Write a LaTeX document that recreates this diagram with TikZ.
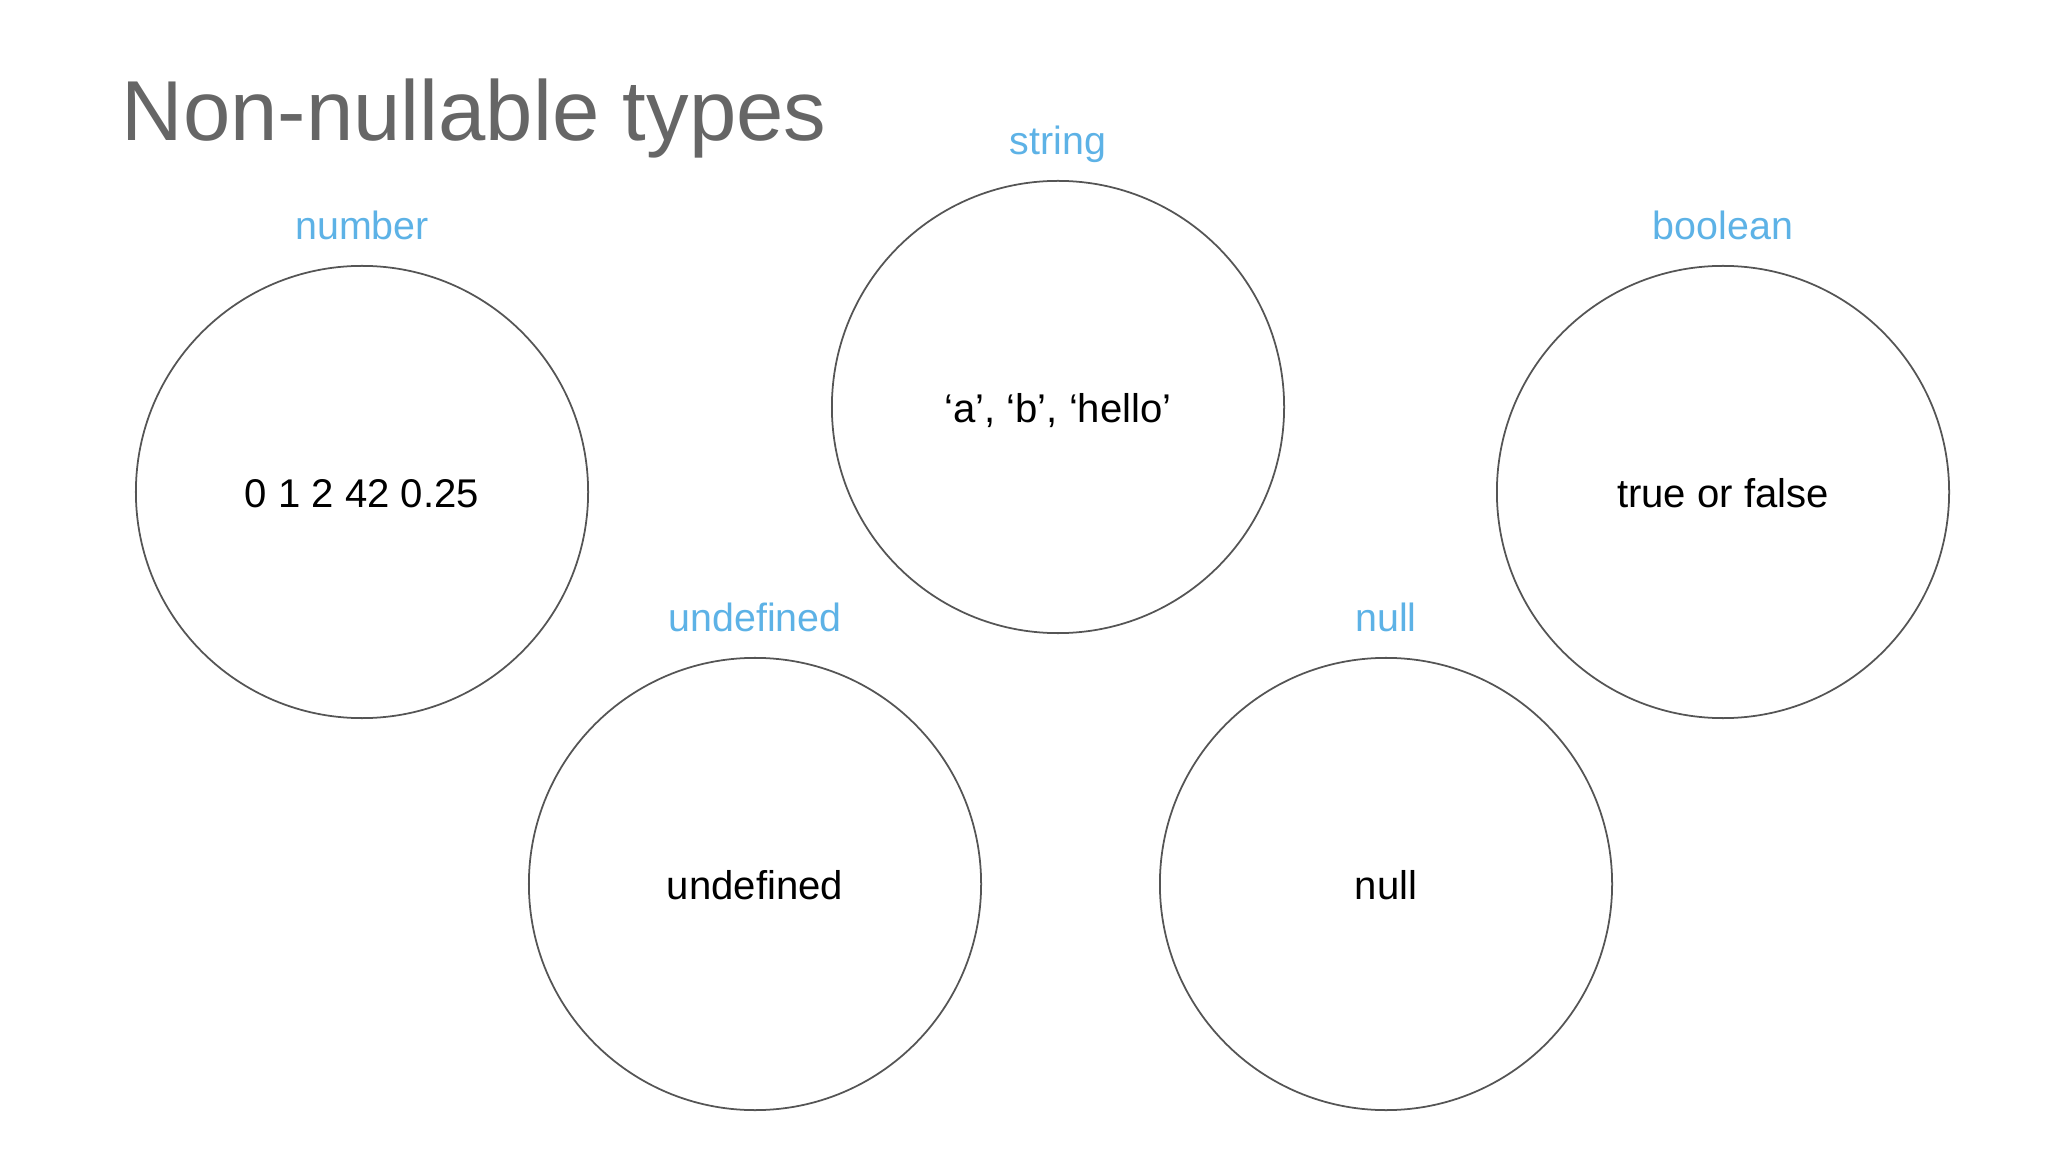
\documentclass[tikz,border=0pt]{standalone}
\usepackage{fontspec}
\setmainfont{Liberation Sans}
\usetikzlibrary{positioning}
\definecolor{titlegray}{RGB}{102,102,102}
\definecolor{labelblue}{RGB}{93,178,230}
\definecolor{ringgray}{RGB}{85,85,85}

\begin{document}
\begin{tikzpicture}[x=0.01cm, y=-0.01cm,
    typeset/.style={draw=ringgray, line width=0.5pt, circle, minimum size=4.52cm, inner sep=0pt, text height=9.2pt, text depth=0.2pt, font=\fontsize{11.4}{13}\selectfont},
    typename/.style={text=labelblue, inner sep=0pt, text depth=0pt, font=\fontsize{11.2}{13}\selectfont}]
        \useasboundingbox (0,0) rectangle (2048,1152);
        \node[anchor=base west, inner sep=0pt, text=titlegray, font=\fontsize{24.2}{28}\selectfont] (title) at (121,141) {Non-nullable types};

        \node[typeset] (number) at (362,492) {0 1 2 42 0.25};
        \node[typeset] (string) at (1058,407) {‘a’, ‘b’, ‘hello’};
        \node[typeset] (boolean) at (1723,492) {true or false};
        \node[typeset] (undef) at (755,884) {undefined};
        \node[typeset] (nullset) at (1386,884) {null};

        \node[typename, above=0.25cm of number] (numberlabel) {number};
        \node[typename, above=0.25cm of string] (stringlabel) {string};
        \node[typename, above=0.25cm of boolean] (booleanlabel) {boolean};
        \node[typename, above=0.25cm of undef] (undeflabel) {undefined};
        \node[typename, above=0.25cm of nullset] (nulllabel) {null};
    \end{tikzpicture}
\end{document}
